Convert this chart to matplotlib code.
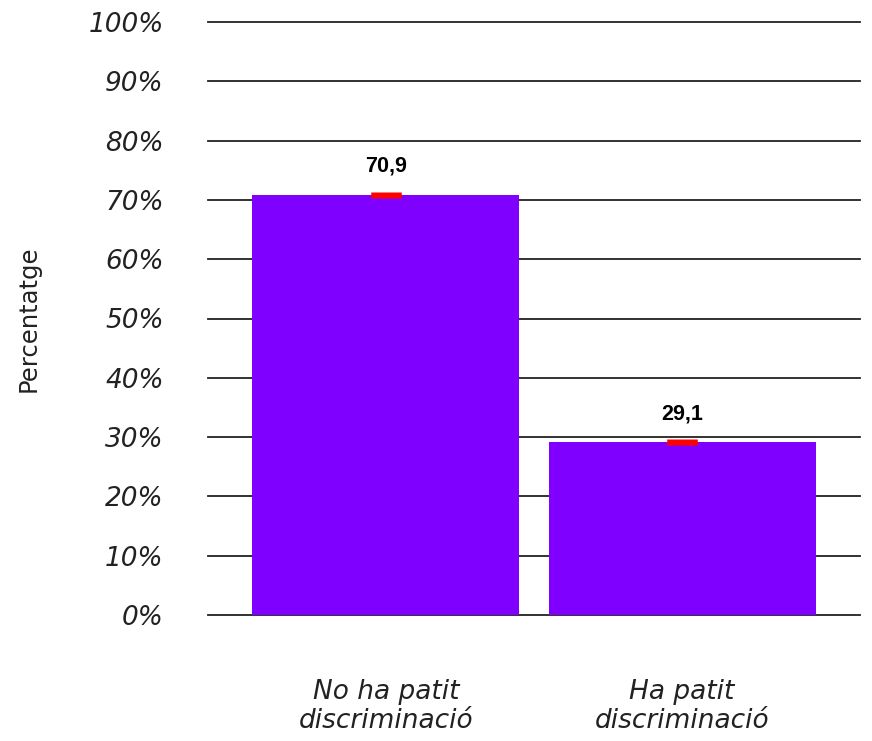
import matplotlib
matplotlib.use("Agg")
import matplotlib.pyplot as plt
from matplotlib.ticker import FuncFormatter

# data
categories = ["No ha patit\ndiscriminació", "Ha patit\ndiscriminació"]
values = [70.9, 29.1]
errors = [0.5, 0.5]
value_labels = ["70,9", "29,1"]
yticks = list(range(0, 101, 10))

fig = plt.figure(figsize=(8.72, 7.41), dpi=100)
ax = fig.add_axes([208 / 872, 1 - 615 / 741, (860 - 208) / 872, (615 - 22) / 741])

x = list(range(len(categories)))
ax.bar(x, values, width=0.9, color="#8000ff", zorder=2)
ax.errorbar(x, values, yerr=errors, fmt="none", ecolor="#ff0000",
            elinewidth=22, zorder=3)

for xi, v, lab in zip(x, values, value_labels):
    ax.annotate(lab, (xi, v), xytext=(0, 13), textcoords="offset points",
                ha="center", va="bottom", fontsize=15.5, fontweight="bold",
                family="Liberation Sans")

ax.set_xlim(-0.6, 1.6)
ax.set_ylim(0, 100)
ax.set_yticks(yticks)
ax.yaxis.set_major_formatter(FuncFormatter(lambda v, p: f"{v:.0f}%"))
ax.yaxis.grid(True, color="#222222", linewidth=1.3, zorder=1)
ax.set_axisbelow(True)
for gl in ax.get_ygridlines():
    gl.set_clip_on(False)

for s in ax.spines.values():
    s.set_visible(False)

ax.tick_params(axis="y", length=0, pad=32, labelsize=19)
ax.tick_params(axis="x", length=0, pad=46, labelsize=19)
for t in ax.get_yticklabels():
    t.set_fontstyle("italic")
    t.set_color("#222222")
ax.set_xticks(x)
ax.set_xticklabels(categories, fontstyle="italic", color="#222222",
                   linespacing=1.15)

ax.set_ylabel("Percentatge", fontsize=17.5, labelpad=34, color="#222222")

fig.savefig("out.png", dpi=100)
